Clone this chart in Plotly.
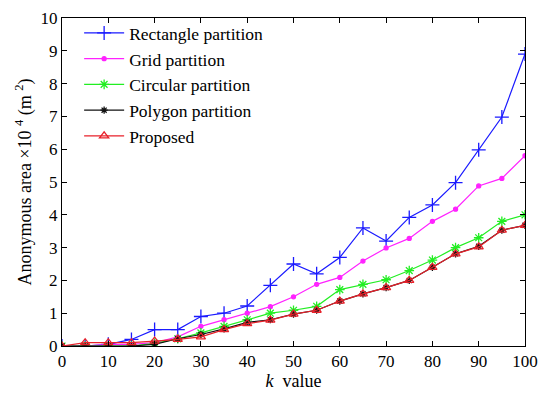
import plotly.graph_objects as go

k_values = [0, 5, 10, 15, 20, 25, 30, 35, 40, 45, 50, 55, 60, 65, 70, 75, 80, 85, 90, 95, 100]
rectangle = [0, 0, 0.05, 0.2, 0.5, 0.5, 0.9, 1.0, 1.22, 1.85, 2.5, 2.2, 2.7, 3.6, 3.2, 3.92, 4.3, 4.98, 5.98, 6.98, 8.9]
grid = [0, 0, 0.05, 0.05, 0.1, 0.28, 0.6, 0.8, 1.0, 1.2, 1.5, 1.88, 2.09, 2.59, 2.99, 3.28, 3.8, 4.17, 4.88, 5.11, 5.8]
circular = [0, 0, 0, 0, 0.08, 0.22, 0.4, 0.6, 0.8, 1.0, 1.09, 1.21, 1.72, 1.88, 2.02, 2.3, 2.62, 3.0, 3.3, 3.8, 4.0]
polygon = [0, 0, 0, 0, 0.05, 0.22, 0.35, 0.52, 0.72, 0.8, 0.97, 1.09, 1.37, 1.59, 1.78, 2.0, 2.4, 2.81, 3.04, 3.53, 3.68]
proposed = [0, 0.1, 0.1, 0.1, 0.15, 0.2, 0.28, 0.5, 0.68, 0.79, 0.97, 1.09, 1.37, 1.59, 1.78, 2.0, 2.4, 2.81, 3.02, 3.53, 3.68]

series = [
    ("Rectangle partition", rectangle, "#1a1aff", "cross-thin-open", 10),
    ("Grid partition", grid, "#ff22ff", "circle", 4),
    ("Circular partition", circular, "#22ee22", "asterisk-open", 8),
    ("Polygon partition", polygon, "#111111", "asterisk-open", 6),
    ("Proposed", proposed, "#e8202a", "triangle-up-open", 8),
]

fig = go.Figure()
for i, (name, vals, color, sym, size) in enumerate(series):
    fig.add_trace(go.Scatter(
        x=k_values, y=vals, name=name, mode="lines+markers",
        line=dict(color=color, width=1.2),
        marker=dict(symbol=sym, size=size, color=color, line=dict(color=color, width=1.3)),
    ))

font_family = "Liberation Serif, Times New Roman, serif"
fig.update_layout(
    width=547, height=396,
    margin=dict(l=62, r=17, t=9, b=50),
    paper_bgcolor="white", plot_bgcolor="white",
    font=dict(family=font_family, size=17, color="black"),
    showlegend=True,
    legend=dict(x=0.037, y=1.009, xanchor="left", yanchor="top",
                bgcolor="rgba(255,255,255,0)", font=dict(size=17.5, family=font_family),
                itemwidth=40),
    xaxis=dict(range=[0, 100], tickmode="array", tickvals=list(range(0, 101, 10)),
               showline=True, linecolor="black", linewidth=1, mirror="ticks",
               ticks="inside", ticklen=5, tickcolor="black", showgrid=False, zeroline=False,
               ticklabeloverflow="allow",
               title=dict(text="<i>k</i>  value", standoff=2, font=dict(size=18))),
    yaxis=dict(range=[0, 10], tickmode="array", tickvals=list(range(0, 11)),
               showline=True, linecolor="black", linewidth=1, mirror="ticks",
               ticks="inside", ticklen=5, tickcolor="black", showgrid=False, zeroline=False,
               ticklabeloverflow="allow",
               title=dict(text="Anonymous area ×10 <sup>4</sup> (m <sup>2</sup>)", standoff=4, font=dict(size=18))),
)

fig.write_html("out.html")
